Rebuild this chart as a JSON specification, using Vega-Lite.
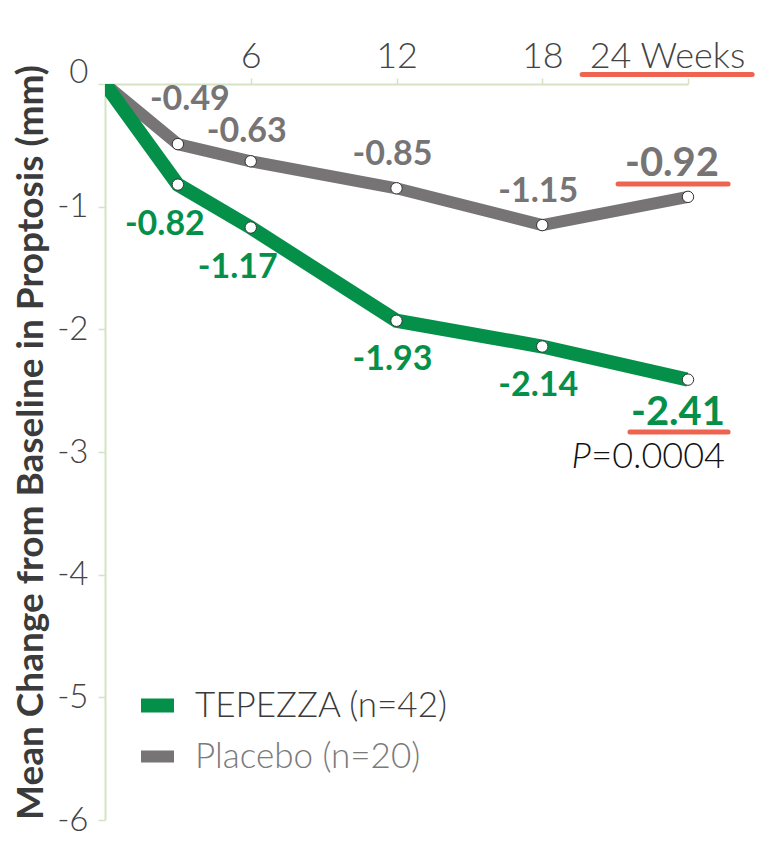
{
  "$schema": "https://vega.github.io/schema/vega-lite/v6.json",
  "width": 583,
  "height": 736,
  "autosize": {"type": "none"},
  "padding": {"left": 105, "top": 84, "right": 73, "bottom": 42},
  "background": "white",
  "config": {"view": {"stroke": null}, "font": "Lato", "axis": {"grid": false}},
  "datasets": {
    "series": [
      {"group": "Placebo (n=20)", "week": 0, "change": 0},
      {"group": "Placebo (n=20)", "week": 3, "change": -0.49},
      {"group": "Placebo (n=20)", "week": 6, "change": -0.63},
      {"group": "Placebo (n=20)", "week": 12, "change": -0.85},
      {"group": "Placebo (n=20)", "week": 18, "change": -1.15},
      {"group": "Placebo (n=20)", "week": 24, "change": -0.92},
      {"group": "TEPEZZA (n=42)", "week": 0, "change": 0},
      {"group": "TEPEZZA (n=42)", "week": 3, "change": -0.82},
      {"group": "TEPEZZA (n=42)", "week": 6, "change": -1.17},
      {"group": "TEPEZZA (n=42)", "week": 12, "change": -1.93},
      {"group": "TEPEZZA (n=42)", "week": 18, "change": -2.14},
      {"group": "TEPEZZA (n=42)", "week": 24, "change": -2.41}
    ],
    "underlines": [
      {"week": 19.64, "week2": 26.64, "change": 0.077},
      {"week": 21.12, "week2": 25.65, "change": -0.815},
      {"week": 21.61, "week2": 25.65, "change": -2.837}
    ]
  },
  "layer": [
    {
      "data": {"name": "series"},
      "mark": {"type": "line", "clip": true},
      "encoding": {
        "x": {
          "field": "week", "type": "quantitative",
          "scale": {"domain": [0, 24], "nice": false, "zero": false},
          "axis": {
            "orient": "top", "title": null, "values": [6, 12, 18, 24],
            "labelExpr": "datum.value == 24 ? '24 Weeks' : datum.label",
            "labelFont": "Lato", "labelFontSize": 36, "labelFontWeight": 300, "labelColor": "#444444",
            "labelPadding": 11, "labelBaseline": "alphabetic",
            "labelOffset": {"condition": {"test": "datum.value == 24", "value": -21}, "value": 0},
            "tickSize": 6, "tickColor": "#d3e3c3", "tickWidth": 1.5,
            "domainColor": "#d3e3c3", "domainWidth": 2,
            "labelFlush": false, "labelOverlap": false, "grid": false
          }
        },
        "y": {
          "field": "change", "type": "quantitative",
          "scale": {"domain": [-6, 0], "nice": false, "zero": false},
          "axis": {
            "orient": "left", "title": "Mean Change from Baseline in Proptosis (mm)",
            "values": [0, -1, -2, -3, -4, -5, -6],
            "labelExpr": "'' + datum.value",
            "labelFont": "Lato", "labelFontSize": 33, "labelFontWeight": 300, "labelColor": "#444444",
            "labelPadding": 10,
            "labelOffset": {"condition": {"test": "datum.value == 0", "value": -12}, "value": 0},
            "tickSize": 7, "tickColor": "#d3e3c3", "tickWidth": 1.5,
            "domainColor": "#d3e3c3", "domainWidth": 2,
            "titleFont": "Lato", "titleFontSize": 37, "titleFontWeight": "bold", "titleColor": "#3b3b3b",
            "titleAngle": 270, "titleX": -63, "titleY": 358, "titleAlign": "center", "titleBaseline": "alphabetic",
            "labelFlush": false, "labelOverlap": false, "grid": false
          }
        },
        "color": {
          "field": "group", "type": "nominal",
          "scale": {"domain": ["TEPEZZA (n=42)", "Placebo (n=20)"], "range": ["#05904a", "#767475"]},
          "legend": {
            "orient": "none", "legendX": 29, "legendY": 598, "title": null,
            "symbolType": "M-1,0H1", "symbolSize": 1089, "symbolStrokeWidth": 19,
            "labelFont": "Lato", "labelFontSize": 35, "labelFontWeight": 300, "labelOffset": 14,
            "rowPadding": -8, "labelLimit": 400,
            "encode": {"labels": {"update": {"fill": {"signal": "datum.label == 'Placebo (n=20)' ? '#7a7a7a' : '#3a3a3a'"}}}}
          }
        },
        "strokeWidth": {
          "field": "group", "type": "nominal",
          "scale": {"domain": ["TEPEZZA (n=42)", "Placebo (n=20)"], "range": [14, 12]},
          "legend": null
        }
      }
    },
    {
      "data": {"name": "series"},
      "transform": [{"filter": "datum.week > 0"}],
      "mark": {"type": "point", "filled": true, "fill": "white", "stroke": "#333333", "strokeWidth": 1, "size": 130, "opacity": 1},
      "encoding": {
        "x": {"field": "week", "type": "quantitative"},
        "y": {"field": "change", "type": "quantitative"}
      }
    },
    {
      "data": {"name": "underlines"},
      "mark": {"type": "rule", "strokeWidth": 5, "strokeCap": "round", "color": "#ee6450", "clip": false},
      "encoding": {
        "x": {"field": "week", "type": "quantitative"},
        "x2": {"field": "week2"},
        "y": {"field": "change", "type": "quantitative"}
      }
    },
    {
      "data": {"name": "series"},
      "transform": [{"filter": "datum.group == 'Placebo (n=20)' && datum.week == 6"}],
      "mark": {"type": "text", "font": "Lato", "fontWeight": "bold", "fontSize": 34, "baseline": "alphabetic", "align": "center", "dx": -4, "dy": -19, "color": "#767475"},
      "encoding": {
        "x": {"field": "week", "type": "quantitative"},
        "y": {"field": "change", "type": "quantitative"},
        "text": {"field": "change", "type": "nominal"}
      }
    },
    {
      "data": {"name": "series"},
      "transform": [{"filter": "datum.group == 'Placebo (n=20)' && (datum.week == 12 || datum.week == 18)"}],
      "mark": {"type": "text", "font": "Lato", "fontWeight": "bold", "fontSize": 34, "baseline": "alphabetic", "align": "center", "dx": -4, "dy": -23, "color": "#767475"},
      "encoding": {
        "x": {"field": "week", "type": "quantitative"},
        "y": {"field": "change", "type": "quantitative"},
        "text": {"field": "change", "type": "nominal"}
      }
    },
    {
      "data": {"name": "series"},
      "transform": [{"filter": "datum.group == 'Placebo (n=20)' && datum.week == 3"}],
      "mark": {"type": "text", "font": "Lato", "fontWeight": "bold", "fontSize": 34, "baseline": "alphabetic", "align": "center", "dx": 12, "dy": -34, "color": "#767475"},
      "encoding": {
        "x": {"field": "week", "type": "quantitative"},
        "y": {"field": "change", "type": "quantitative"},
        "text": {"field": "change", "type": "nominal"}
      }
    },
    {
      "data": {"name": "series"},
      "transform": [{"filter": "datum.group == 'Placebo (n=20)' && datum.week == 24"}],
      "mark": {"type": "text", "font": "Lato", "fontWeight": "bold", "fontSize": 40, "baseline": "alphabetic", "align": "center", "dx": -16, "dy": -21, "color": "#767475"},
      "encoding": {
        "x": {"field": "week", "type": "quantitative"},
        "y": {"field": "change", "type": "quantitative"},
        "text": {"field": "change", "type": "nominal"}
      }
    },
    {
      "data": {"name": "series"},
      "transform": [{"filter": "datum.group == 'TEPEZZA (n=42)' && (datum.week == 3 || datum.week == 6)"}],
      "mark": {"type": "text", "font": "Lato", "fontWeight": "bold", "fontSize": 34, "baseline": "alphabetic", "align": "center", "dx": -13, "dy": 50, "color": "#05904a"},
      "encoding": {
        "x": {"field": "week", "type": "quantitative"},
        "y": {"field": "change", "type": "quantitative"},
        "text": {"field": "change", "type": "nominal"}
      }
    },
    {
      "data": {"name": "series"},
      "transform": [{"filter": "datum.group == 'TEPEZZA (n=42)' && (datum.week == 12 || datum.week == 18)"}],
      "mark": {"type": "text", "font": "Lato", "fontWeight": "bold", "fontSize": 34, "baseline": "alphabetic", "align": "center", "dx": -4, "dy": 49, "color": "#05904a"},
      "encoding": {
        "x": {"field": "week", "type": "quantitative"},
        "y": {"field": "change", "type": "quantitative"},
        "text": {"field": "change", "type": "nominal"}
      }
    },
    {
      "data": {"name": "series"},
      "transform": [{"filter": "datum.group == 'TEPEZZA (n=42)' && datum.week == 24"}],
      "mark": {"type": "text", "font": "Lato", "fontWeight": "bold", "fontSize": 40, "baseline": "alphabetic", "align": "center", "dx": -10, "dy": 45, "color": "#05904a"},
      "encoding": {
        "x": {"field": "week", "type": "quantitative"},
        "y": {"field": "change", "type": "quantitative"},
        "text": {"field": "change", "type": "nominal"}
      }
    },
    {
      "data": {"name": "series"},
      "transform": [{"filter": "datum.group == 'TEPEZZA (n=42)' && datum.week == 24"}],
      "mark": {"type": "text", "font": "Lato", "fontWeight": 300, "fontSize": 36, "baseline": "alphabetic", "align": "right", "dx": 37, "dy": 88, "color": "#111111"},
      "encoding": {
        "x": {"field": "week", "type": "quantitative"},
        "y": {"field": "change", "type": "quantitative"},
        "text": {"value": "=0.0004"}
      }
    },
    {
      "data": {"name": "series"},
      "transform": [{"filter": "datum.group == 'TEPEZZA (n=42)' && datum.week == 24"}],
      "mark": {"type": "text", "font": "Lato", "fontWeight": 300, "fontStyle": "italic", "fontSize": 36, "baseline": "alphabetic", "align": "right", "dx": -97, "dy": 88, "color": "#111111"},
      "encoding": {
        "x": {"field": "week", "type": "quantitative"},
        "y": {"field": "change", "type": "quantitative"},
        "text": {"value": "P"}
      }
    }
  ]
}
